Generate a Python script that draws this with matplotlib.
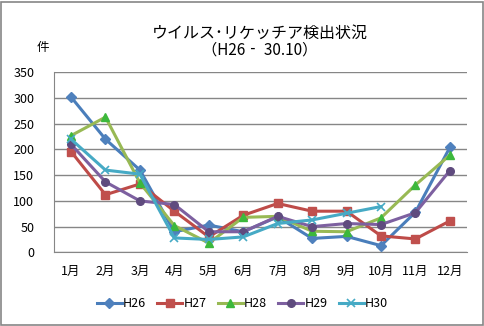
import numpy as np
import matplotlib
matplotlib.use('Agg')
import matplotlib.pyplot as plt

plt.rcParams['font.family'] = ['Noto Sans CJK JP', 'DejaVu Sans']

months = ['1月', '2月', '3月', '4月', '5月', '6月', '7月', '8月', '9月', '10月', '11月', '12月']
h26 = [302, 220, 160, 40, 53, 40, 69, 27, 31, 13, 78, 204]
h27 = [196, 112, 133, 80, 30, 72, 95, 80, 80, 32, 26, 61]
h28 = [227, 263, 135, 52, 18, 68, 70, 41, 40, 67, 131, 189]
h29 = [210, 137, 100, 93, 40, 40, 70, 50, 56, 54, 77, 159]
h30 = [220, 160, 152, 28, 25, 30, 56, 63, 76, 89]

fig = plt.figure(figsize=(4.85, 3.26), dpi=100)
ax = fig.add_axes([0.111, 0.226, 0.852, 0.552])

x = np.arange(len(months))
ax.plot(x, h26, color='#4A7EBB', lw=2.2, marker='D', ms=5, mfc='#4F81BD', mec='#4F81BD', label='H26')
ax.plot(x, h27, color='#BE4B48', lw=2.2, marker='s', ms=6, mfc='#C0504D', mec='#C0504D', label='H27')
ax.plot(x, h28, color='#98B954', lw=2.2, marker='^', ms=6, mfc='#3CB83C', mec='#3CB83C', label='H28')
ax.plot(x, h29, color='#7D60A0', lw=2.2, marker='o', ms=5.5, mfc='#5F4B7E', mec='#5F4B7E', label='H29')
ax.plot(x[:len(h30)], h30, color='#46AAC5', lw=2.2, marker='x', ms=6, mew=1.2, mec='#46AAC5', label='H30')

ax.set_xlim(-0.5, 11.5)
ax.set_ylim(0, 350)
ax.set_yticks(range(0, 351, 50))
ax.set_xticks(x)
ax.set_xticklabels(months)
ax.tick_params(axis='both', labelsize=9, length=0)
ax.tick_params(axis='x', pad=9)
ax.tick_params(axis='y', pad=14)
ax.grid(axis='y', color='#868686', lw=1)
ax.set_axisbelow(True)
for s in ['top', 'right']:
    ax.spines[s].set_visible(False)
for s in ['left', 'bottom']:
    ax.spines[s].set_color('#868686')

fig.text(0.536, 0.898, 'ウイルス･リケッチア検出状況', ha='center', va='center', fontsize=11.5)
fig.text(0.536, 0.845, '（H26‐ 30.10）', ha='center', va='center', fontsize=11)
fig.text(0.088, 0.855, '件', ha='center', va='center', fontsize=9)

ax.legend(loc='center', bbox_to_anchor=(0.5, 0.068), bbox_transform=fig.transFigure, ncol=5,
          frameon=False, fontsize=9, handlelength=2.0, handletextpad=0.1, columnspacing=0.9)

fig.add_artist(plt.Rectangle((0.002, 0.003), 0.994, 0.992, transform=fig.transFigure,
                             fill=False, ec='#868686', lw=1.2))

fig.savefig('out.png', dpi=100)
